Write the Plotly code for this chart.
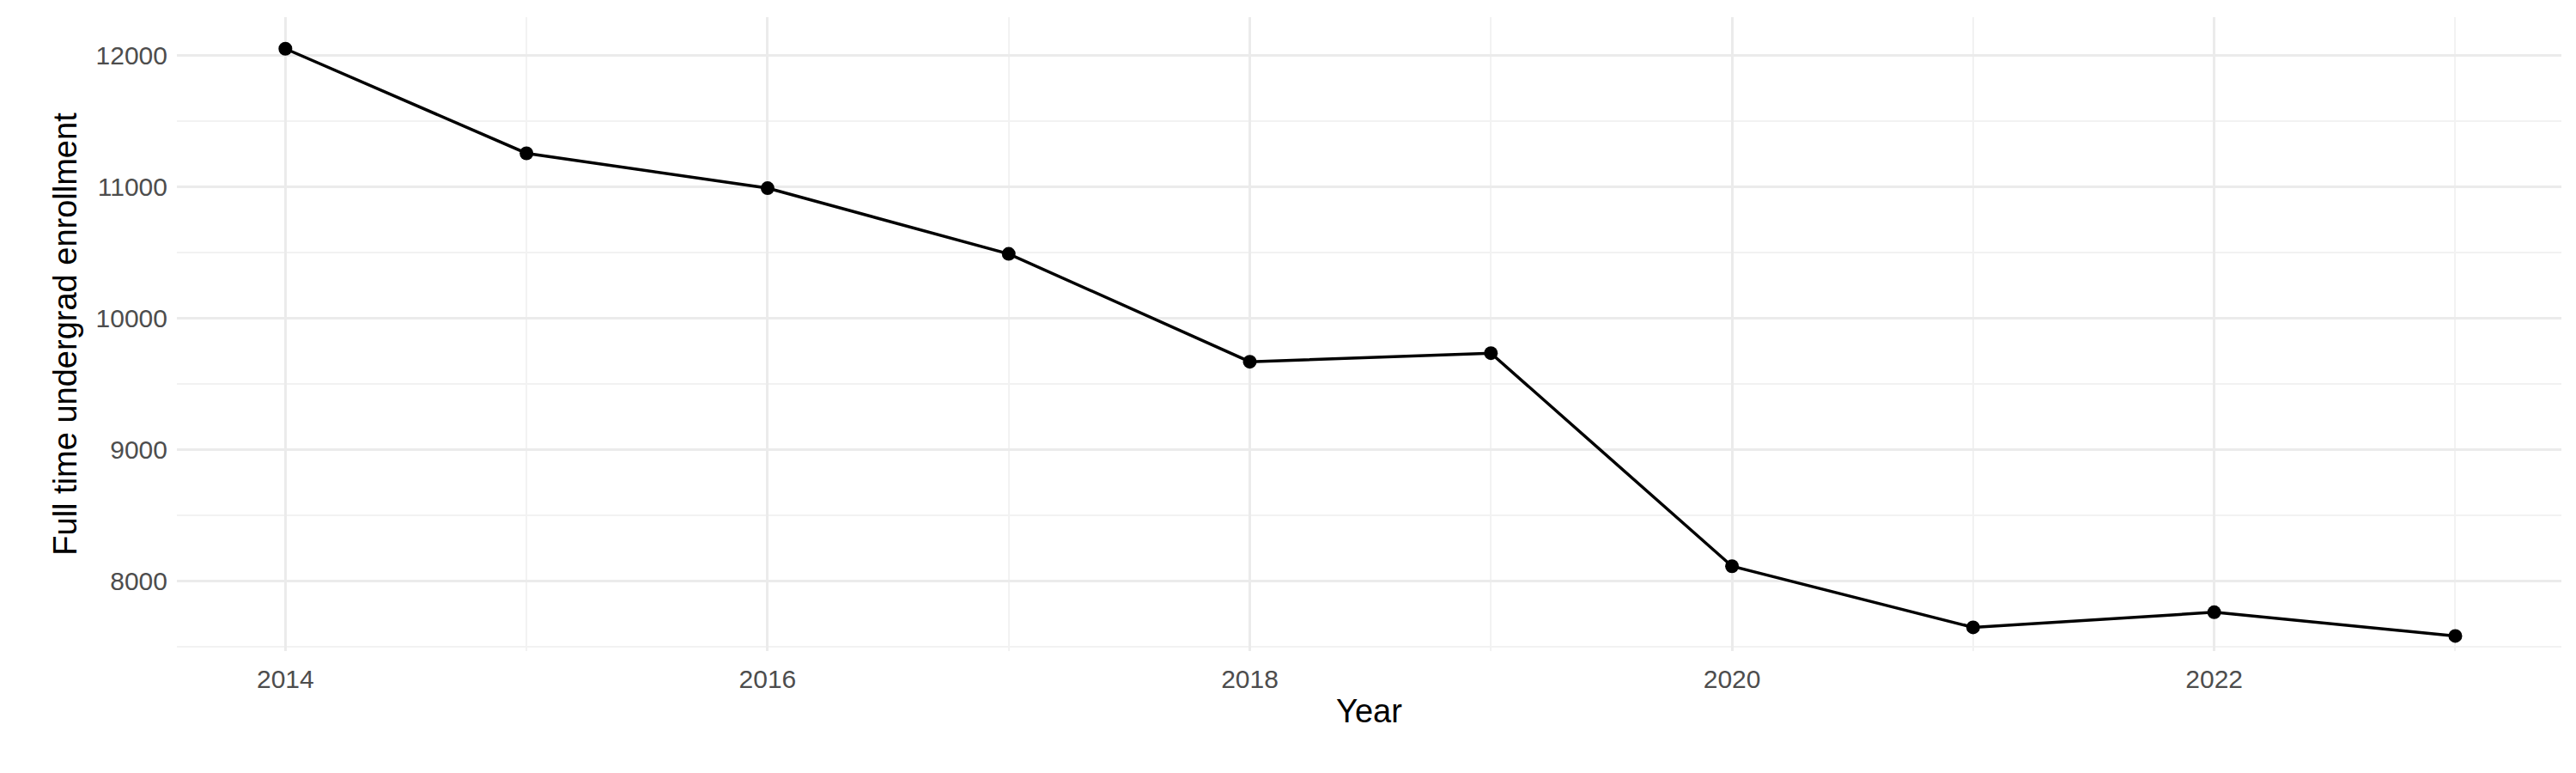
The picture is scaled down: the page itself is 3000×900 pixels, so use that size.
import plotly.graph_objects as go

years = [2014, 2015, 2016, 2017, 2018, 2019, 2020, 2021, 2022, 2023]
enrollment = [12050, 11255, 10990, 10490, 9670, 9735, 8115, 7650, 7765, 7585]
y_ticks = [8000, 9000, 10000, 11000, 12000]
y_labels = ["8000", "9000", "10000", "11000", "12000"]

fig = go.Figure(go.Scatter(x=years, y=enrollment, mode="lines+markers",
                           line=dict(color="black", width=3.5),
                           marker=dict(color="black", size=16)))
font = "Liberation Sans, Arial, sans-serif"
fig.update_layout(
    width=3000, height=900, plot_bgcolor="white", paper_bgcolor="white",
    margin=dict(l=198, r=25, t=12, b=150), showlegend=False,
    font=dict(family=font, color="#4d4d4d", size=30),
)
fig.update_xaxes(range=[2013.55, 2023.44], tickvals=[2014, 2016, 2018, 2020, 2022],
                 showgrid=True, gridcolor="#ebebeb", gridwidth=3, zeroline=False,
                 minor=dict(tickvals=[2015, 2017, 2019, 2021, 2023], showgrid=True,
                            gridcolor="#f2f2f2", gridwidth=1.5),
                 title=dict(text="Year", font=dict(size=38, color="black"), standoff=8),
                 ticks="", ticklabelstandoff=12)
fig.update_yaxes(range=[7470, 12290], tickvals=y_ticks, ticktext=y_labels,
                 showgrid=True, gridcolor="#ebebeb", gridwidth=3, zeroline=False,
                 minor=dict(tickvals=[7500, 8500, 9500, 10500, 11500], showgrid=True,
                            gridcolor="#f2f2f2", gridwidth=1.5),
                 title=dict(text="Full time undergrad enrollment", font=dict(size=38, color="black"),
                            standoff=10),
                 ticks="", ticklabelstandoff=10)
fig.write_html("out.html")
